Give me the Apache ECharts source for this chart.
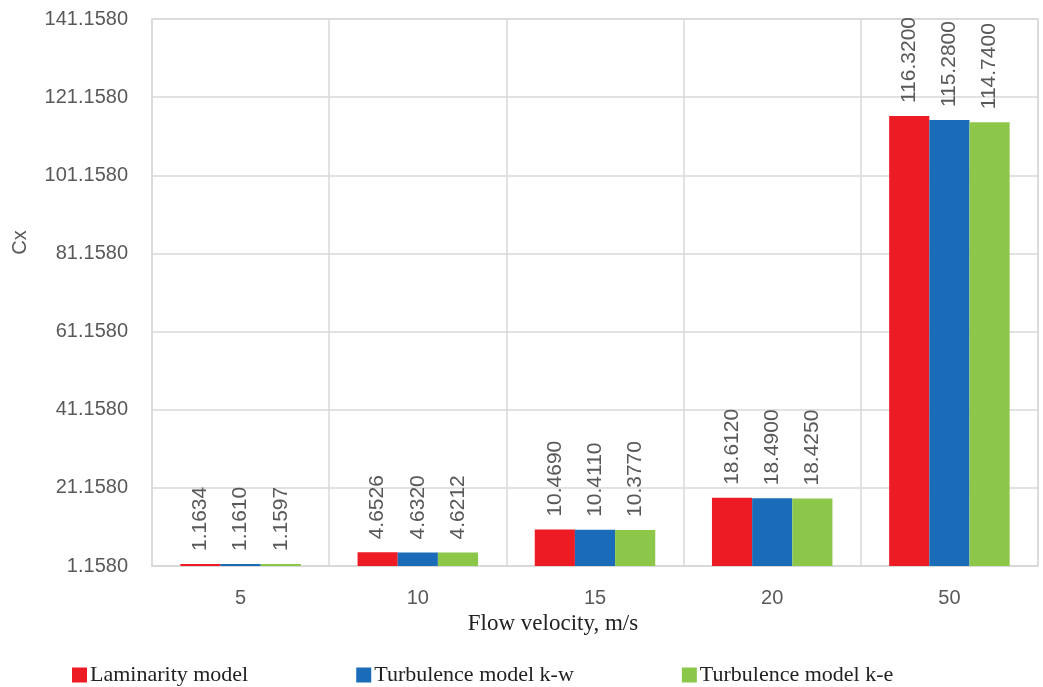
<!DOCTYPE html>
<html>
<head>
<meta charset="utf-8">
<script src="https://cdn.jsdelivr.net/npm/echarts@6/dist/echarts.min.js"></script>
<style>
  html, body { margin: 0; padding: 0; background: #fff; }
  #chart { width: 1043px; height: 687px; }
</style>
</head>
<body>
<div id="chart"></div>
<script>
// Drag coefficient Cx by flow velocity for three flow models
const categories = ['5', '10', '15', '20', '50'];
const laminar = [1.1634, 4.6526, 10.4690, 18.6120, 116.3200];
const kw = [1.1610, 4.6320, 10.4110, 18.4900, 115.2800];
const ke = [1.1597, 4.6212, 10.3770, 18.4250, 114.7400];
const seriesNames = ['Laminarity model', 'Turbulence model k-w', 'Turbulence model k-e'];
const seriesColors = ['#ED1C24', '#1B6CB8', '#8CC74A'];

// value axis starts at this baseline; ticks run every 20 above it
const AXIS_BASE = 1.158;
const AXIS_SPAN = 140;
const AXIS_STEP = 20;

const labelFont = '"Liberation Sans", Arial, sans-serif';
const serifFont = '"Liberation Serif", "Times New Roman", serif';

function makeSeries(name, values, color) {
  return {
    name: name,
    type: 'bar',
    data: values.map(v => v - AXIS_BASE),
    itemStyle: { color: color },
    barGap: '0%',
    barCategoryGap: '32%',
    barMinHeight: 2,
    label: {
      show: true,
      position: 'top',
      rotate: 90,
      align: 'left',
      verticalAlign: 'middle',
      distance: 13,
      color: '#595959',
      fontFamily: labelFont,
      fontSize: 21,
      formatter: p => values[p.dataIndex].toFixed(4)
    }
  };
}

const chart = echarts.init(document.getElementById('chart'), null, { renderer: 'canvas' });
chart.setOption({
  animation: false,
  backgroundColor: '#ffffff',
  grid: { left: 152, right: 5, top: 19, bottom: 121, show: true, borderColor: '#D9D9D9', borderWidth: 1.5 },
  legend: {
    data: seriesNames,
    left: 67,
    top: 659,
    icon: 'rect',
    itemWidth: 15,
    itemHeight: 15,
    itemGap: 108,
    textStyle: { fontFamily: serifFont, fontSize: 22, color: '#222', padding: [0, 0, 0, -2] }
  },
  xAxis: {
    type: 'category',
    data: categories,
    name: 'Flow velocity, m/s',
    nameLocation: 'middle',
    nameGap: 46,
    nameTextStyle: { fontFamily: serifFont, fontSize: 23, color: '#222', padding: [0, 84, 0, 0] },
    axisLine: { show: true, lineStyle: { color: '#D9D9D9', width: 1.5 } },
    axisTick: { show: false },
    axisLabel: { color: '#595959', fontFamily: labelFont, fontSize: 20, margin: 22 },
    splitLine: { show: true, lineStyle: { color: '#D9D9D9', width: 1.5 } }
  },
  yAxis: {
    type: 'value',
    min: 0,
    max: AXIS_SPAN,
    interval: AXIS_STEP,
    name: 'Cx',
    nameLocation: 'middle',
    nameGap: 122,
    nameRotate: 90,
    nameTextStyle: { fontFamily: labelFont, fontSize: 20, color: '#595959', padding: [0, 0, 0, 100] },
    axisLine: { show: false },
    axisTick: { show: false },
    axisLabel: {
      color: '#595959',
      fontFamily: labelFont,
      fontSize: 20,
      margin: 24,
      formatter: v => (v + AXIS_BASE).toFixed(4)
    },
    splitLine: { show: true, lineStyle: { color: '#D9D9D9', width: 1.5 } }
  },
  series: [
    makeSeries(seriesNames[0], laminar, seriesColors[0]),
    makeSeries(seriesNames[1], kw, seriesColors[1]),
    makeSeries(seriesNames[2], ke, seriesColors[2])
  ]
});
</script>
</body>
</html>
